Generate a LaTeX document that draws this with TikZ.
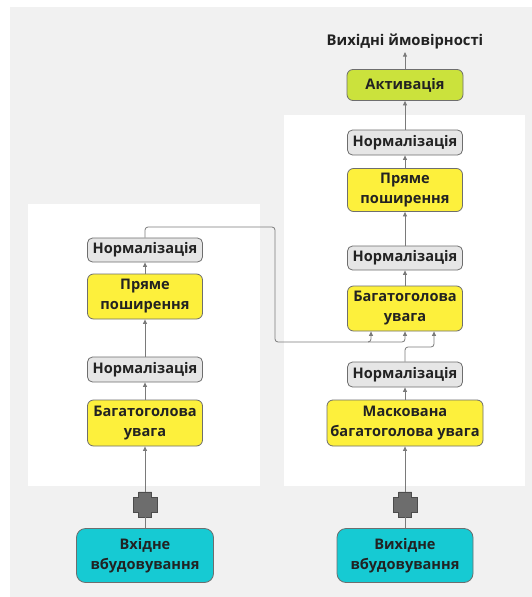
\documentclass[tikz,border=0pt]{standalone}
\usepackage{fontspec}
\setmainfont{Open Sans}
\usetikzlibrary{arrows.meta,calc}
\definecolor{bgpanel}{HTML}{F1F1F1}
\definecolor{ylw}{HTML}{FDF03C}
\definecolor{nrm}{HTML}{E6E6E6}
\definecolor{lime}{HTML}{CBE23C}
\definecolor{teal}{HTML}{16CAD3}
\definecolor{edge}{HTML}{6E6E6E}
\definecolor{wire}{HTML}{7A7A7A}
\definecolor{txt}{HTML}{222222}
\definecolor{plusc}{HTML}{6D6D6D}
\tikzset{
  x=1pt,y=-1pt,
  base/.style={draw=edge,line width=0.8pt,rounded corners=6pt,align=center,
    text=txt,font=\fontsize{14.6}{20}\selectfont\bfseries,inner sep=0pt,
    minimum width=115pt},
  ybox/.style={base,fill=ylw},
  nbox/.style={base,fill=nrm,rounded corners=5pt},
  abox/.style={base,fill=lime},
  ebox/.style={base,fill=teal,rounded corners=9pt},
  wireln/.style={draw=wire,line width=0.8pt,rounded corners=3pt},
  arr/.style={wireln,-{Triangle[length=4.5pt,width=4pt]}},
  plusshape/.style={fill=plusc,draw=black!70,line width=0.6pt}
}
\begin{document}
\begin{tikzpicture}
\useasboundingbox (0,0) rectangle (532,597);
\fill[white] (0,0) rectangle (532,597);
\fill[bgpanel] (10,7) rectangle (532,597);
\fill[white] (28,204) rectangle (260,486);
\fill[white] (284,115) rectangle (525,486);

% left column
\node[nbox,minimum height=24pt] (LN2) at (145,250) {Нормалізація};
\node[ybox,minimum height=45pt] (LFF) at (145,296.5) {Пряме\\поширення};
\node[nbox,minimum height=25pt] (LN1) at (145,369.5) {Нормалізація};
\node[ybox,minimum height=46pt] (LMHA) at (145,423) {Багатоголова\\увага};
\node[ebox,minimum width=137pt,minimum height=54pt] (Lemb) at (145,555.5) {Вхідне\\вбудовування};
\coordinate (Lplus) at (145,504.5);
\node[inner sep=0pt,minimum width=24pt,minimum height=25pt] (LplusN) at (Lplus) {};
\draw[plusshape] ($(Lplus)+(-6.5,-12.7)$) -- ++(13,0) -- ++(0,5.5) -- ++(5.5,0) -- ++(0,15) -- ++(-5.5,0) -- ++(0,5) -- ++(-13,0) -- ++(0,-5) -- ++(-5.5,0) -- ++(0,-15) -- ++(5.5,0) -- cycle;

% right column
\node[font=\fontsize{14.8}{16}\selectfont\bfseries,text=txt] (out) at (405,41) {Вихідні ймовірності};
\node[abox,minimum width=116pt,minimum height=31pt] (Act) at (405,85) {Активація};
\node[nbox,minimum height=25pt] (RN3) at (405,142.5) {Нормалізація};
\node[ybox,minimum height=43pt] (RFF) at (405,190) {Пряме\\поширення};
\node[nbox,minimum height=24pt] (RN2) at (405,258) {Нормалізація};
\node[ybox,minimum height=45pt] (RMHA) at (405,308.5) {Багатоголова\\увага};
\node[nbox,minimum height=25pt] (RN1) at (405,374.5) {Нормалізація};
\node[ybox,minimum width=156pt,minimum height=46pt] (RMMHA) at (405,423) {Маскована\\багатоголова увага};
\node[ebox,minimum width=136pt,minimum height=54pt] (Remb) at (405,555.5) {Вихідне\\вбудовування};
\coordinate (Rplus) at (405,504.5);
\node[inner sep=0pt,minimum width=24pt,minimum height=25pt] (RplusN) at (Rplus) {};
\draw[plusshape] ($(Rplus)+(-6.5,-12.7)$) -- ++(13,0) -- ++(0,5.5) -- ++(5.5,0) -- ++(0,15) -- ++(-5.5,0) -- ++(0,5) -- ++(-13,0) -- ++(0,-5) -- ++(-5.5,0) -- ++(0,-15) -- ++(5.5,0) -- cycle;

% left connectors
\draw[wireln] (Lemb.north) -- (LplusN.south);
\draw[arr] (LplusN.north) -- (LMHA.south);
\draw[arr] (LMHA.north) -- (LN1.south);
\draw[arr] (LN1.north) -- (LFF.south);
\draw[arr] (LFF.north) -- (LN2.south);

% encoder output to decoder
\coordinate (c1) at (145,227);
\coordinate (c2) at (275,227);
\coordinate (c3) at (275,342);
\coordinate (k) at (371,342);
\coordinate (v) at (405,342);
\draw[arr] (LN2.north) -- (c1) -- (c2) -- (c3) -- (k) -- (k |- RMHA.south);
\draw[arr] ($(k)+(-3,0)$) -- (v) -- (RMHA.south);

% right connectors
\draw[wireln] (Remb.north) -- (RplusN.south);
\draw[arr] (RplusN.north) -- (RMMHA.south);
\draw[arr] (RMMHA.north) -- (RN1.south);
\coordinate (q1) at (405,347);
\coordinate (q2) at (434,347);
\draw[arr] (RN1.north) -- (q1) -- (q2) -- (q2 |- RMHA.south);
\draw[arr] (RMHA.north) -- (RN2.south);
\draw[arr] (RN2.north) -- (RFF.south);
\draw[arr] (RFF.north) -- (RN3.south);
\draw[arr] (RN3.north) -- (Act.south);
\draw[arr] (Act.north) -- (out.south);
\end{tikzpicture}
\end{document}
